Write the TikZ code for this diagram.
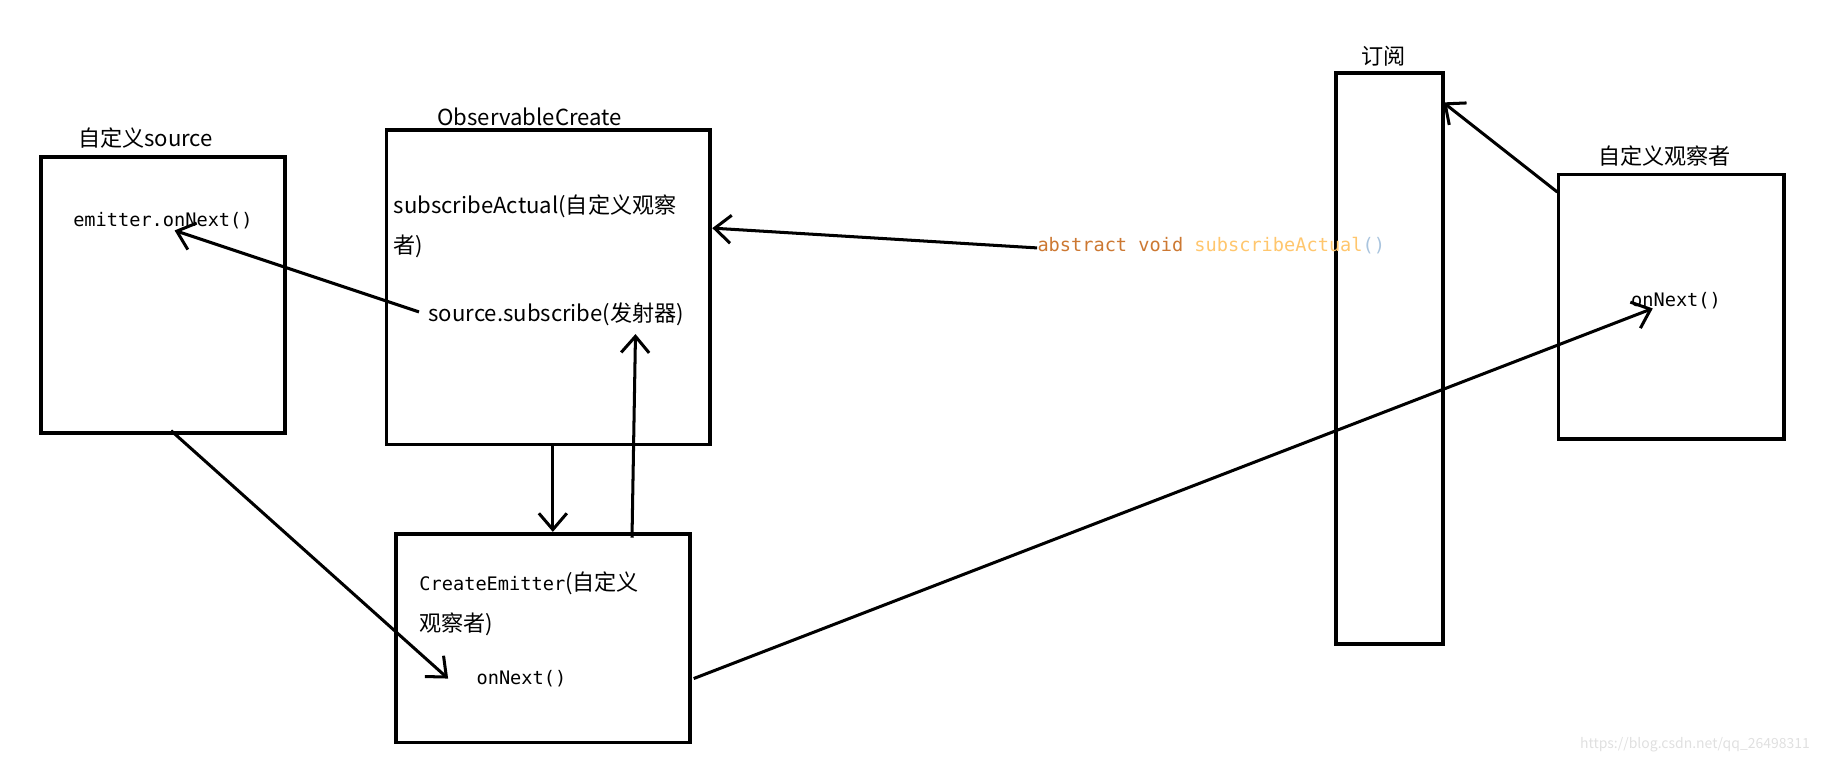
\documentclass[tikz,border=0pt]{standalone}
\usepackage{fontspec}
\setmainfont{Noto Sans CJK SC}
\newfontfamily\codefont{DejaVu Sans Mono}
\usetikzlibrary{arrows.meta}
\definecolor{kw}{HTML}{CC7832}
\definecolor{fn}{HTML}{FFC66D}
\definecolor{par}{HTML}{A9C4DE}
\begin{document}
\begin{tikzpicture}[x=0.5pt,y=-0.5pt,
  box/.style={draw,line width=1.6pt},
  lbl/.style={font=\fontsize{9.5}{11}\selectfont,inner sep=0pt},
  code/.style={font=\codefont\fontsize{8}{10}\selectfont,inner sep=0pt},
  conn/.style={line width=1.3pt,-{Straight Barb[length=7pt,width=12pt,line width=1.3pt]}}]
\useasboundingbox (0,0) rectangle (1568,658);
\draw[box] (35,135) rectangle (245,372);
\draw[box] (332,112) rectangle (610,382);
\draw[box] (340,459) rectangle (593,638);
\draw[box] (1148,63) rectangle (1240,553);
\draw[box] (1339,150) rectangle (1533,377);
\node[lbl] (la) at (125,119) {自定义source};
\node[lbl] (lb) at (455,100) {ObservableCreate};
\node[lbl] (lbar) at (1189,48) {订阅};
\node[lbl] (ld) at (1430,134) {自定义观察者};
\node[code] (emit) at (140,190) {emitter.onNext()};
\node[lbl,anchor=west] (sa1) at (338,177) {subscribeActual(自定义观察};
\node[lbl,anchor=west] (sa2) at (338,212) {者)};
\node[lbl] (ss) at (478,270) {source.subscribe(发射器)};
\node[lbl,anchor=west] (ce1) at (360,501) {{\codefont\fontsize{8}{10}\selectfont CreateEmitter}(自定义};
\node[lbl,anchor=west] (ce2) at (360,536) {观察者)};
\node[code] (on1) at (448,583) {onNext()};
\node[code] (on2) at (1440,258) {onNext()};
\node[code,anchor=west] (abs) at (891,211) {\textcolor{kw}{abstract void} \textcolor{fn}{subscribeActual}\textcolor{par}{()}};
\coordinate (a1) at (891,213); \coordinate (a2) at (612,196);
\coordinate (b1) at (360,268); \coordinate (b2) at (150,198);
\coordinate (c1) at (475,382); \coordinate (c2) at (475,457);
\coordinate (d1) at (543,462); \coordinate (d2) at (546,287);
\coordinate (e1) at (147,370); \coordinate (e2) at (385,583);
\coordinate (f1) at (596,583); \coordinate (f2) at (1420,265);
\coordinate (g1) at (1338,165); \coordinate (g2) at (1240,88);
\draw[conn] (a1) -- (a2);
\draw[conn] (b1) -- (b2);
\draw[conn] (c1) -- (c2);
\draw[conn] (d1) -- (d2);
\draw[conn] (e1) -- (e2);
\draw[conn] (f1) -- (f2);
\draw[conn] (g1) -- (g2);
\node[text=black!12,font=\fontsize{6}{7}\selectfont,anchor=east] (wm) at (1562,640) {https://blog.csdn.net/qq\_26498311};
\end{tikzpicture}
\end{document}
